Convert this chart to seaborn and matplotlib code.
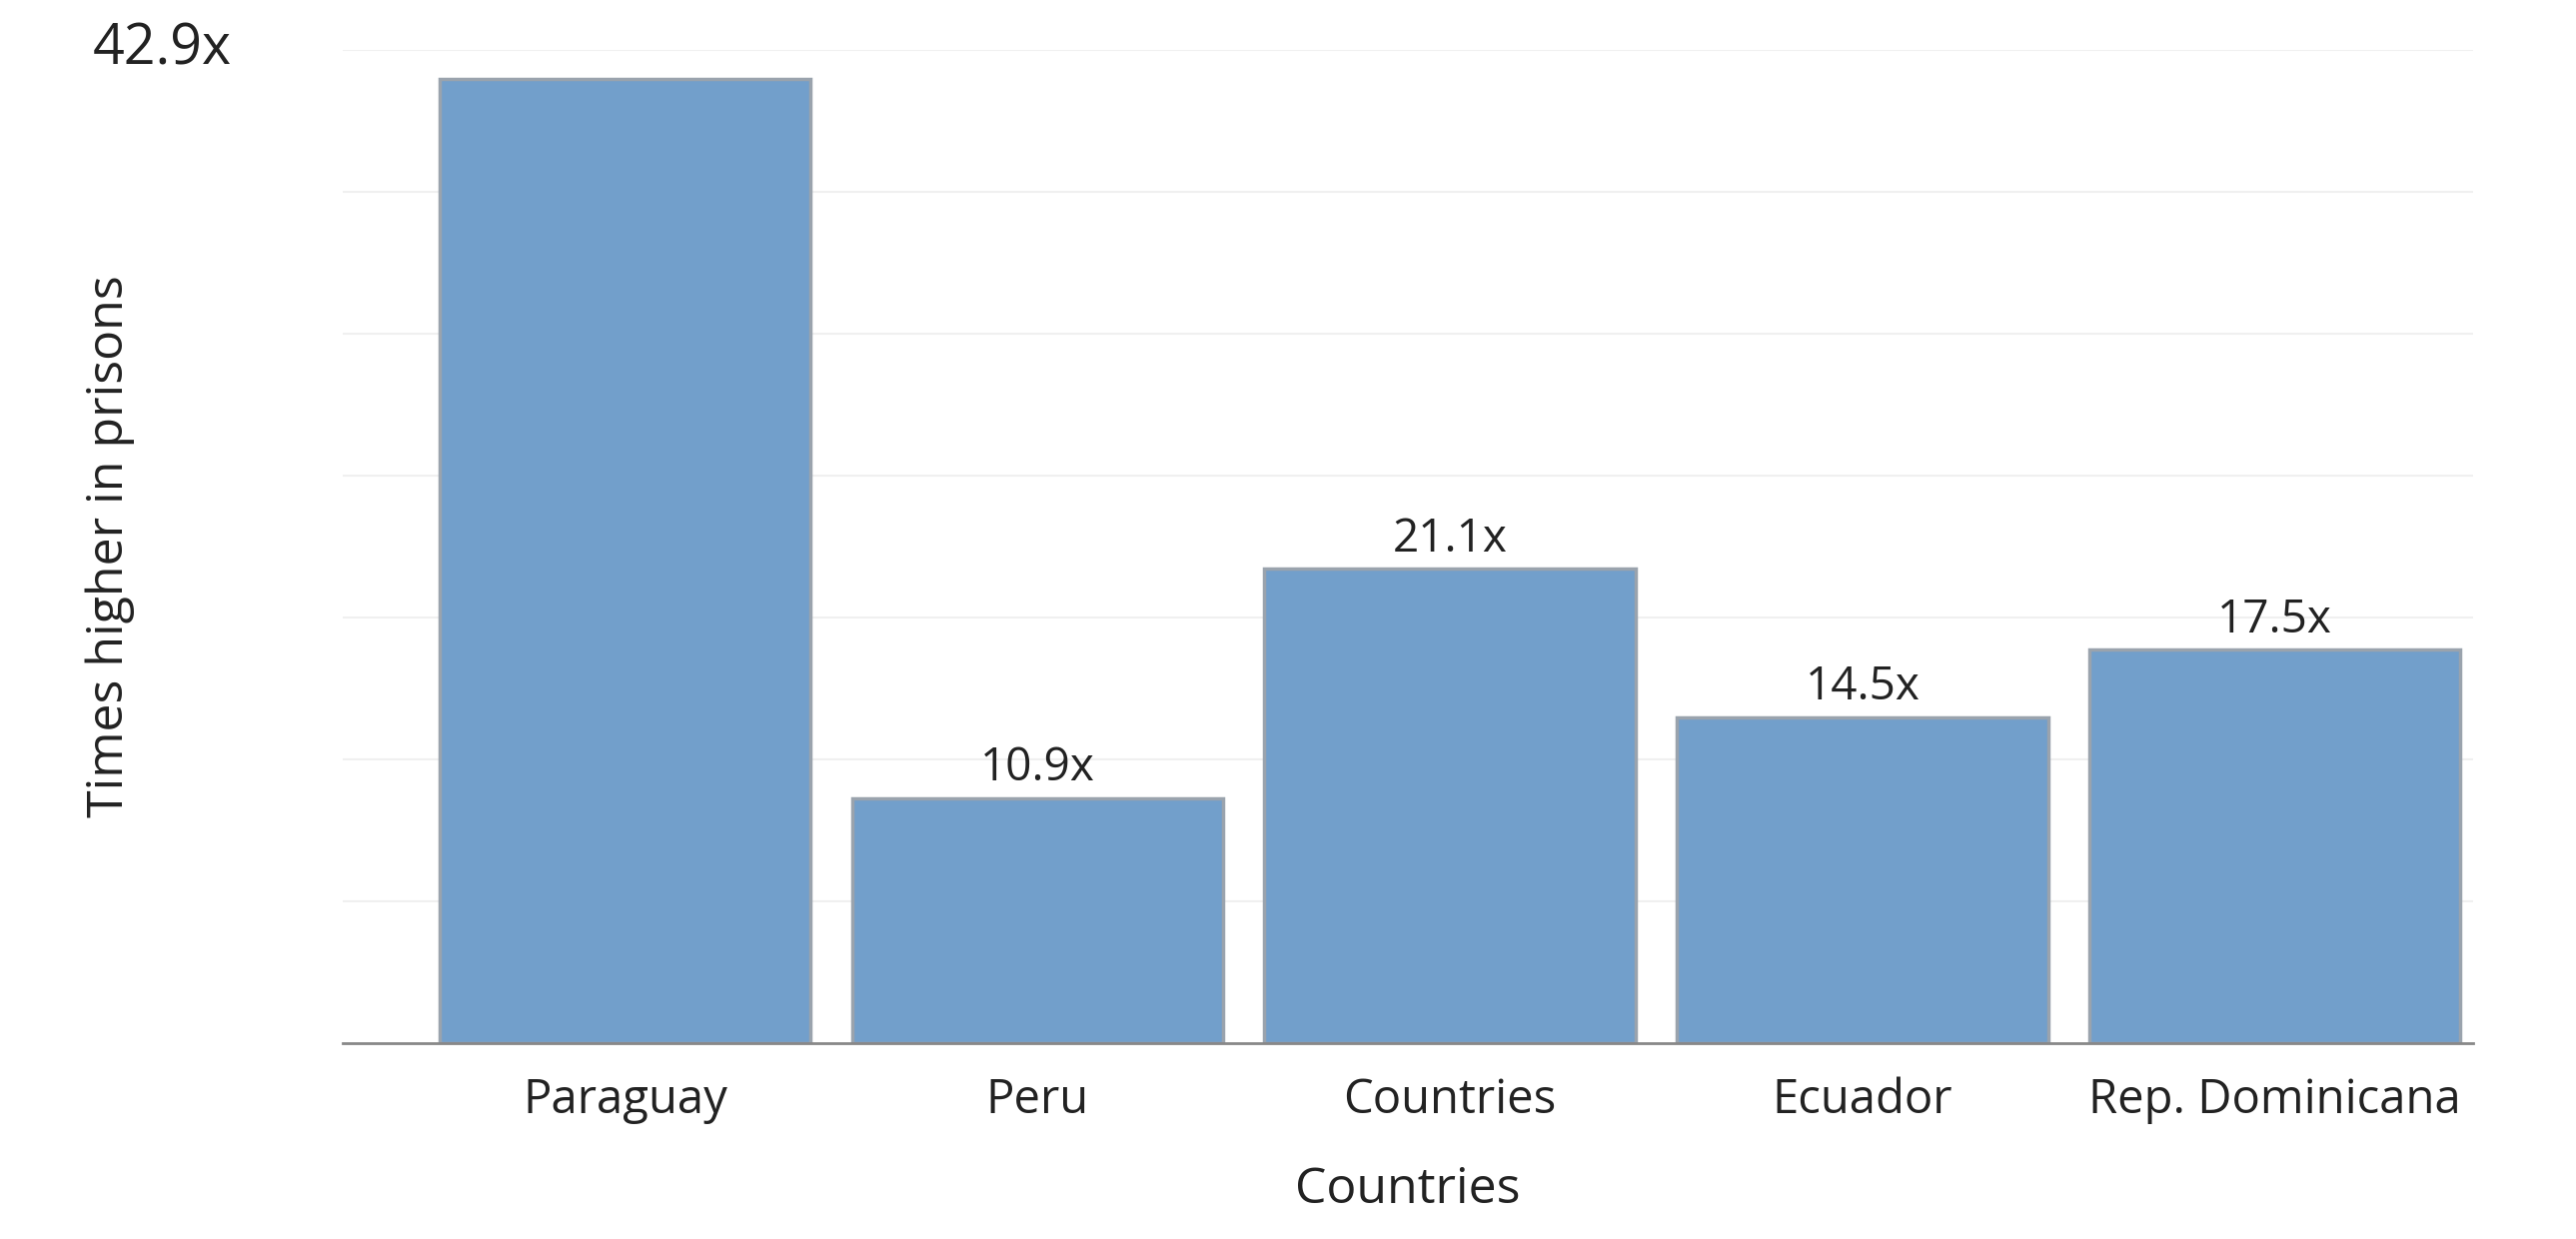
import matplotlib
matplotlib.use("Agg")
import matplotlib.pyplot as plt
import seaborn as sns
import pandas as pd

countries = ["Paraguay", "Peru", "Countries", "Ecuador", "Rep. Dominicana"]
times_higher = [42.9, 10.9, 21.1, 14.5, 17.5]
bar_labels = ["", "10.9x", "21.1x", "14.5x", "17.5x"]

df = pd.DataFrame({"Countries": countries, "Times": times_higher})

sns.set_style("white")
plt.rcParams['font.family'] = ['Open Sans', 'DejaVu Sans']

fig = plt.figure(figsize=(25.78, 12.4), dpi=100)
ax = fig.add_axes([0.133, 0.158, 0.827, 0.802])

sns.barplot(data=df, x="Countries", y="Times", color="#729fcb", saturation=1,
            width=0.9, edgecolor="#9aa3ad", linewidth=2.5, ax=ax)

ymax = 44.2
ax.set_ylim(0, ymax)
ax.set_xlim(-0.685, 4.48)
for k in range(1, 8):
    ax.axhline(ymax * k / 7, color="#f0f0f0", lw=1.5, zorder=0)

for i, (v, lab) in enumerate(zip(times_higher, bar_labels)):
    if lab:
        ax.text(i, v + 0.3, lab, ha="center", va="bottom", fontsize=33, color="#222222")

ax.set_yticks([])
ax.text(-0.052, 1.0, "42.9x", transform=ax.transAxes, ha="right", va="center",
        fontsize=40, color="#222222")

ax.tick_params(axis="x", labelsize=34, length=0, pad=24, colors="#222222")
ax.set_xlabel("Countries", fontsize=36, labelpad=30, color="#222222")
ax.set_ylabel("Times higher in prisons", fontsize=36, labelpad=150, color="#222222")

for s in ["top", "right", "left"]:
    ax.spines[s].set_visible(False)
ax.spines["bottom"].set_color("#888888")
ax.spines["bottom"].set_linewidth(2)

fig.savefig("out.png", dpi=100)
